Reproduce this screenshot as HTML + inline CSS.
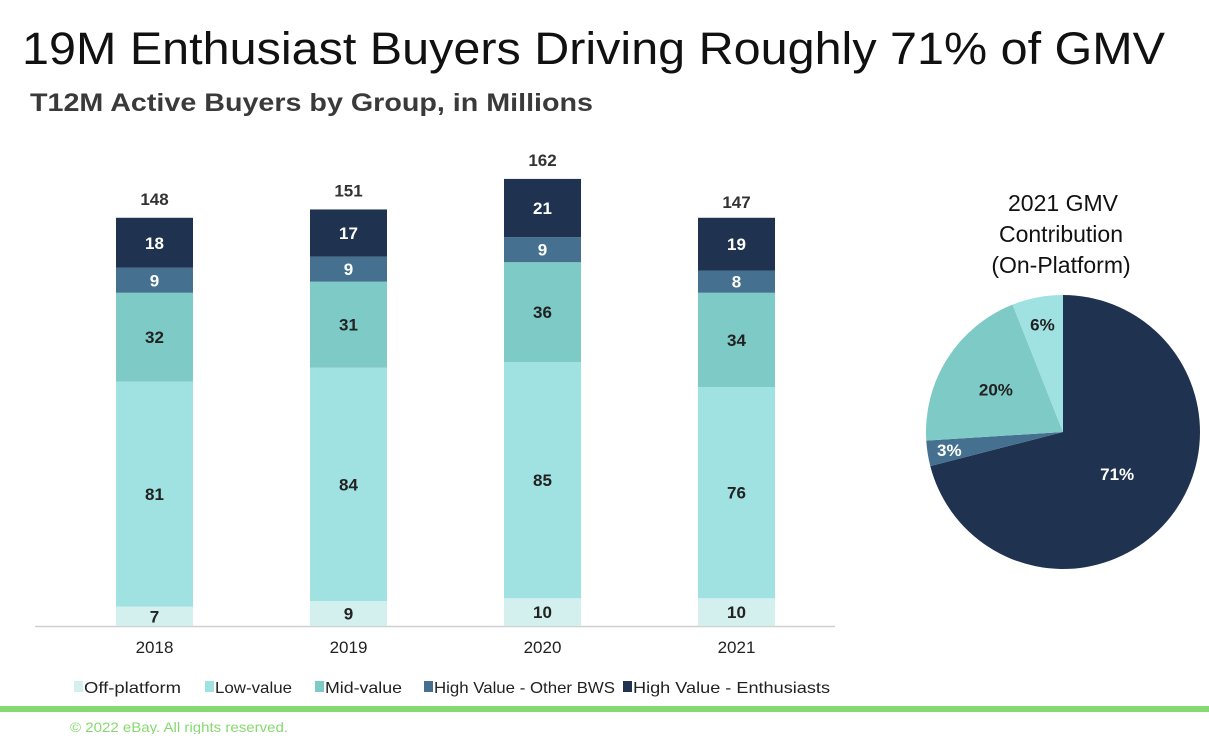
<!DOCTYPE html>
<html><head><meta charset="utf-8"><style>
body{margin:0;background:#fff;width:1209px;height:734px;overflow:hidden;font-family:"Liberation Sans",sans-serif;}
svg text{font-family:"Liberation Sans",sans-serif;}
</style></head><body>
<svg width="1209" height="734">
<text x="22" y="64" font-size="45" textLength="1143" lengthAdjust="spacingAndGlyphs" fill="#111">19M Enthusiast Buyers Driving Roughly 71% of GMV</text>
<text x="30" y="111" font-size="25" font-weight="bold" textLength="563" lengthAdjust="spacingAndGlyphs" fill="#3a3a3a">T12M Active Buyers by Group, in Millions</text>
<g id="bars"></g>
<g id="pie"></g>
<text x="1063" y="211" font-size="23" text-anchor="middle" fill="#111">2021 GMV</text>
<text x="1061" y="242" font-size="23" text-anchor="middle" fill="#111">Contribution</text>
<text x="1061" y="273" font-size="23" text-anchor="middle" fill="#111">(On-Platform)</text>
<g id="legend"></g>
<rect x="0" y="706" width="1209" height="6" fill="#86d96f"/>
<text x="70" y="732" font-size="14" textLength="218" lengthAdjust="spacingAndGlyphs" fill="#86d96f">© 2022 eBay. All rights reserved.</text>
</svg>
<script>
const years=["2018","2019","2020","2021"];
const offPlatform=[7,9,10,10];
const lowValue=[81,84,85,76];
const midValue=[32,31,36,34];
const highOther=[9,9,9,8];
const enthusiasts=[18,17,21,19];
const totals=[148,151,162,147];
const seriesNames=["Off-platform","Low-value","Mid-value","High Value - Other BWS","High Value - Enthusiasts"];
const pieLabels=["Enthusiasts","Other BWS","Mid-value","Low-value"];
const pieValues=[71,3,20,6];

const NS="http://www.w3.org/2000/svg";
const colors=["#d3f0ee","#a0e2e1","#7ecac6","#45708f","#1f3350"];
const textCols=["#222","#222","#222","#fff","#fff"];
const base=626, pxPer=411/148, x0=154.5, step=194, bw=77;
const yScale=v=>base-v*pxPer;
const xScale=i=>x0+i*step;
function mk(tag,attrs,parent){const e=document.createElementNS(NS,tag);for(const k in attrs)e.setAttribute(k,attrs[k]);parent.appendChild(e);return e;}
const bars=document.getElementById('bars');
const series=[offPlatform,lowValue,midValue,highOther,enthusiasts];
const axis=mk('line',{x1:35,x2:835,y1:base+0.5,y2:base+0.5,stroke:'#d0d0d0','stroke-width':1.5},bars);


years.forEach((y,i)=>{
  let cum=0;
  series.forEach((s,k)=>{
    const v=s[i];const top=yScale(cum+v),bot=yScale(cum);
    const r=mk('rect',{x:xScale(i)-bw/2,y:top,width:bw,height:bot-top,fill:colors[k]},bars);
    
    
    const t=mk('text',{x:xScale(i),y:(top+bot)/2+6,'font-size':17,'font-weight':'bold','text-anchor':'middle',fill:textCols[k]},bars);
    t.textContent=v;
    
    
    cum+=v;
  });
  const tt=mk('text',{x:xScale(i),y:yScale(totals[i])-10,'font-size':17,'font-weight':'bold','text-anchor':'middle',fill:'#333'},bars);
  tt.textContent=totals[i];
  
  
  const xl=mk('text',{x:xScale(i),y:653,'font-size':17,'text-anchor':'middle',fill:'#222'},bars);
  xl.textContent=y;
  
  
});
// legend
const leg=document.getElementById('legend');
const legX=[74,205,315,424,623];
const legW=[97,77,77,181,197];
seriesNames.forEach((n,k)=>{
  const r=mk('rect',{x:legX[k],y:681,width:9,height:11,fill:colors[k]},leg);
  
  
  const t=mk('text',{x:legX[k]+10,y:693,'font-size':16,fill:'#222',textLength:legW[k],lengthAdjust:'spacingAndGlyphs'},leg);
  t.textContent=n;
  
  
});
// pie
const pie=document.getElementById('pie');
const cx=1063,cy=432,R=137;
const pieCols=["#1f3350","#45708f","#7ecac6","#a0e2e1"];
const pieText=["#fff","#fff","#222","#222"];
const labR=[0.5,0.84,0.58,0.8];
const tot=pieValues.reduce((a,b)=>a+b,0);
let a0=0;
pieValues.forEach((v,k)=>{
  const a1=a0+v/tot*2*Math.PI;
  const p=(a)=>[cx+R*Math.sin(a),cy-R*Math.cos(a)];
  const [x1,y1]=p(a0),[x2,y2]=p(a1);
  const large=(a1-a0)>Math.PI?1:0;
  const s=mk('path',{d:`M${cx},${cy}L${x1},${y1}A${R},${R} 0 ${large} 1 ${x2},${y2}Z`,fill:pieCols[k]},pie);
  
  
  const am=(a0+a1)/2,lr=R*labR[k];
  const t=mk('text',{x:cx+lr*Math.sin(am),y:cy-lr*Math.cos(am)+6,'font-size':17,'font-weight':'bold','text-anchor':'middle',fill:pieText[k]},pie);
  t.textContent=v+'%';
  
  
  a0=a1;
});
</script>
</body></html>
